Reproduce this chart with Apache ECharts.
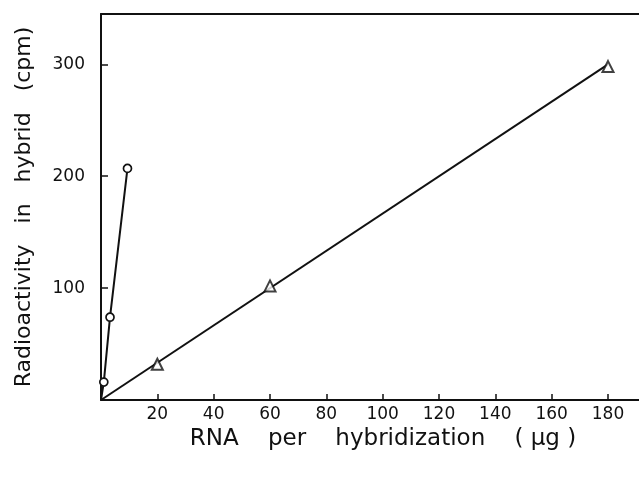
<!DOCTYPE html>
<html>
<head>
<meta charset="utf-8">
<script src="https://cdn.jsdelivr.net/npm/echarts@6/dist/echarts.min.js"></script>
<style>
  html, body { margin: 0; padding: 0; background: #fff; }
  #chart { width: 639px; height: 477px; }
</style>
</head>
<body>
<div id="chart"></div>
<script>
// RNA per hybridization (ug) vs radioactivity (cpm)
var xTicks = [20, 40, 60, 80, 100, 120, 140, 160, 180];
var yTicks = [100, 200, 300];

// open circles
var circleX = [0, 1, 3.2, 9.4];
var circleY = [0, 16, 74, 207];

// open triangles
var triangleX = [20, 60, 180];
var triangleY = [32, 102, 298];

// fitted line through the triangles
var fitX = [0, 180];
var fitY = [0, 300];

function pairs(xs, ys) {
    var out = [];
    for (var i = 0; i < xs.length; i++) out.push([xs[i], ys[i]]);
    return out;
}

var font = 'DejaVu Sans';
var ink = '#111';

var chart = echarts.init(document.getElementById('chart'));

chart.setOption({
    animation: false,
    backgroundColor: '#fff',
    grid: { left: 101, top: 14, right: 0, bottom: 77 },
    xAxis: [{
        type: 'value',
        min: 0,
        max: 191,
        position: 'bottom',
        name: 'RNA    per    hybridization    ( µg )',
        nameLocation: 'middle',
        nameGap: 26,
        nameTextStyle: { fontFamily: font, fontSize: 23, color: ink, padding: [0, 0, 0, 26] },
        axisLine: { lineStyle: { color: ink, width: 2 } },
        axisTick: { inside: true, length: 6, customValues: xTicks, lineStyle: { color: ink, width: 1.5 } },
        axisLabel: { fontFamily: font, fontSize: 17, color: ink, margin: 6, customValues: xTicks },
        splitLine: { show: false }
    }, {
        type: 'value',
        min: 0,
        max: 191,
        position: 'top',
        axisLine: { lineStyle: { color: ink, width: 2 } },
        axisTick: { show: false },
        axisLabel: { show: false },
        splitLine: { show: false }
    }],
    yAxis: {
        type: 'value',
        min: 0,
        max: 345,
        name: 'Radioactivity   in   hybrid   (cpm)',
        nameLocation: 'middle',
        nameGap: 66,
        nameTextStyle: { fontFamily: font, fontSize: 22, color: ink },
        axisLine: { lineStyle: { color: ink, width: 2 } },
        axisTick: { inside: true, length: 7, customValues: yTicks, lineStyle: { color: ink, width: 1.5 } },
        axisLabel: { fontFamily: font, fontSize: 17, color: ink, margin: 16, customValues: yTicks },
        splitLine: { show: false }
    },
    series: [{
        type: 'line',
        data: pairs(circleX, circleY),
        lineStyle: { color: ink, width: 2 },
        symbol: 'circle',
        symbolSize: function (v) { return v[0] === 0 ? 0 : 8; },
        itemStyle: { color: '#fff', borderColor: ink, borderWidth: 1.7 },
        z: 3
    }, {
        type: 'line',
        data: pairs(fitX, fitY),
        lineStyle: { color: ink, width: 2 },
        symbol: 'none',
        z: 2
    }, {
        type: 'scatter',
        data: pairs(triangleX, triangleY),
        symbol: 'triangle',
        symbolSize: 11,
        itemStyle: { color: '#fff', borderColor: ink, borderWidth: 2 },
        z: 4
    }]
});
</script>
</body>
</html>
